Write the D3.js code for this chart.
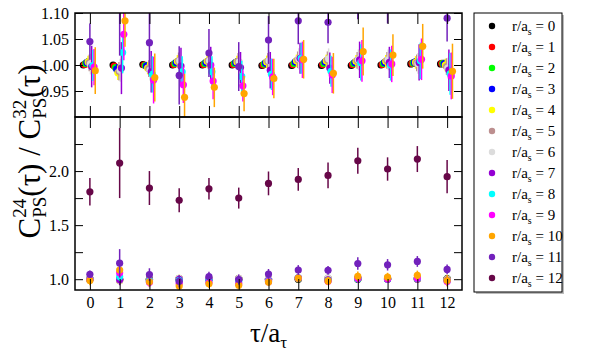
<!DOCTYPE html>
<html>
<head>
<meta charset="utf-8">
<script src="https://cdn.jsdelivr.net/npm/d3@7"></script>
<style>
    body { margin: 0; background: #fff; }
</style>
</head>
<body>
<svg id="chart" width="595" height="354"></svg>
<script>
// tau / a_tau
const tau = [0, 1, 2, 3, 4, 5, 6, 7, 8, 9, 10, 11, 12];
// r / a_s
const rSep = [0, 1, 2, 3, 4, 5, 6, 7, 8, 9, 10, 11, 12];
const seriesColors = ["#000000", "#ff0000", "#00ff00", "#0000ff", "#ffff00", "#bc8f8f", "#dcdcdc",
    "#9400d3", "#00ffff", "#ff00ff", "#ffa500", "#7221bc", "#670748"];

// C_PS^24(tau) / C_PS^32(tau), one row per r/a_s
const ratio = [
    [1.000, 1.000, 1.001, 1.000, 1.000, 1.000, 0.999, 0.999, 0.999, 0.999, 1.000, 1.002, 1.002],
    [1.001, 0.998, 1.000, 1.001, 1.001, 1.001, 1.000, 1.001, 1.001, 1.001, 1.001, 1.003, 1.003],
    [1.003, 0.995, 0.999, 1.003, 1.003, 1.003, 1.002, 1.003, 1.003, 1.003, 1.003, 1.004, 1.003],
    [1.005, 0.992, 0.998, 1.005, 1.005, 1.005, 1.004, 1.006, 1.006, 1.005, 1.005, 1.005, 1.002],
    [1.006, 0.985, 0.994, 1.007, 1.007, 1.006, 1.006, 1.008, 1.008, 1.007, 1.007, 1.005, 1.000],
    [1.004, 0.988, 0.993, 1.008, 1.008, 1.007, 1.007, 1.010, 1.010, 1.009, 1.009, 1.004, 0.997],
    [1.002, 0.990, 0.990, 1.008, 1.008, 1.006, 1.008, 1.012, 1.012, 1.010, 1.010, 1.003, 0.994],
    [0.997, 0.994, 0.987, 0.998, 1.000, 0.995, 0.990, 1.013, 0.994, 1.010, 1.005, 1.005, 0.990],
    [0.999, 1.024, 0.982, 0.987, 0.987, 0.978, 0.982, 1.013, 0.988, 1.005, 1.000, 1.008, 0.983],
    [0.996, 1.059, 0.971, 0.962, 0.969, 0.960, 0.977, 1.010, 0.981, 1.008, 1.002, 1.011, 0.979],
    [0.989, 1.085, 0.976, 0.938, 0.957, 0.945, 0.974, 1.011, 0.984, 1.026, 1.019, 1.036, 0.988],
    [1.045, 1.148, 1.043, 0.980, 1.023, 0.997, 1.048, 1.085, 1.082, 1.145, 1.133, 1.164, 1.090],
    [1.808, 2.074, 1.843, 1.729, 1.836, 1.750, 1.886, 1.923, 1.960, 2.095, 2.019, 2.111, 1.948]
];

const ratioErr = [
    [0.002, 0.002, 0.002, 0.002, 0.002, 0.002, 0.002, 0.002, 0.002, 0.002, 0.002, 0.002, 0.002],
    [0.004, 0.004, 0.004, 0.004, 0.004, 0.004, 0.004, 0.004, 0.004, 0.004, 0.004, 0.004, 0.004],
    [0.006, 0.007, 0.006, 0.006, 0.006, 0.006, 0.006, 0.006, 0.006, 0.006, 0.006, 0.006, 0.006],
    [0.008, 0.010, 0.008, 0.008, 0.008, 0.008, 0.008, 0.008, 0.008, 0.008, 0.008, 0.008, 0.008],
    [0.012, 0.014, 0.012, 0.012, 0.012, 0.012, 0.012, 0.012, 0.012, 0.012, 0.012, 0.012, 0.012],
    [0.016, 0.018, 0.016, 0.016, 0.016, 0.016, 0.016, 0.016, 0.016, 0.016, 0.016, 0.016, 0.016],
    [0.020, 0.022, 0.020, 0.020, 0.020, 0.020, 0.020, 0.020, 0.020, 0.020, 0.020, 0.020, 0.020],
    [0.040, 0.050, 0.040, 0.035, 0.035, 0.030, 0.035, 0.030, 0.030, 0.035, 0.030, 0.035, 0.040],
    [0.030, 0.040, 0.035, 0.030, 0.030, 0.030, 0.030, 0.030, 0.030, 0.035, 0.030, 0.035, 0.040],
    [0.035, 0.050, 0.045, 0.035, 0.035, 0.030, 0.035, 0.035, 0.035, 0.040, 0.035, 0.040, 0.045],
    [0.045, 0.050, 0.046, 0.045, 0.038, 0.034, 0.038, 0.037, 0.039, 0.046, 0.040, 0.043, 0.053],
    [0.035, 0.130, 0.058, 0.056, 0.046, 0.047, 0.046, 0.045, 0.040, 0.057, 0.053, 0.050, 0.045],
    [0.127, 0.324, 0.157, 0.111, 0.100, 0.097, 0.110, 0.105, 0.119, 0.120, 0.108, 0.120, 0.154]
];

const topTicks = [0.95, 1.00, 1.05, 1.10];
const bottomTicks = [1.0, 1.25, 1.5, 1.75, 2.0, 2.25];
const bottomLabels = [1.0, 1.5, 2.0];

const FONT = "Liberation Serif";
const svg = d3.select("#chart");
const pLeft = 75, pRight = 462, pTop = 13, pMid = 117, pBottom = 290;

const x = d3.scaleLinear().domain([-0.5, 12.5]).range([pLeft, pRight]);
const yTop = d3.scaleLinear().domain([0.90, 1.10]).range([pMid, pTop]);
const yBot = d3.scaleLinear().domain([0.9, 2.5]).range([pBottom, pMid]);

// clip paths for the two panels
const defs = svg.append("defs");
defs.append("clipPath").attr("id", "clipTop").append("rect")
    .attr("x", pLeft).attr("y", pTop).attr("width", pRight - pLeft).attr("height", pMid - pTop);
defs.append("clipPath").attr("id", "clipBot").append("rect")
    .attr("x", pLeft).attr("y", pMid).attr("width", pRight - pLeft).attr("height", pBottom - pMid);

function drawPanel(y, clipId, shiftFn) {
    const g = svg.append("g").attr("clip-path", `url(#${clipId})`);
    rSep.forEach((r, i) => {
        const pts = tau.map((t, j) => ({ t: t + shiftFn(r), v: ratio[i][j], e: ratioErr[i][j] }));
        const s = g.append("g");
        s.selectAll("line")
            .data(pts)
            .join("line")
            .attr("x1", d => x(d.t)).attr("x2", d => x(d.t))
            .attr("y1", d => y(d.v - d.e)).attr("y2", d => y(d.v + d.e))
            .attr("stroke", seriesColors[i])
            .attr("stroke-width", 1.5);
        s.selectAll("circle")
            .data(pts)
            .join("circle")
            .attr("cx", d => x(d.t))
            .attr("cy", d => y(d.v))
            .attr("r", 3.6)
            .attr("fill", seriesColors[i]);
    });
}

// top panel points are staggered slightly per r
drawPanel(yTop, "clipTop", r => r <= 10 ? (r - 5.5) * 0.04 : 0);
drawPanel(yBot, "clipBot", r => 0);

function styleAxis(sel) {
    sel.select(".domain").remove();
    sel.selectAll("line").attr("stroke", "#000");
    sel.selectAll("text").style("font-size", "16px").attr("fill", "#000");
}

// Y axes, top panel
svg.append("g").attr("transform", `translate(${pLeft},0)`)
    .call(d3.axisLeft(yTop).tickValues(topTicks).tickFormat(d3.format(".2f")).tickSize(-8).tickPadding(6))
    .call(styleAxis);
svg.append("g").attr("transform", `translate(${pRight},0)`)
    .call(d3.axisRight(yTop).tickValues(topTicks).tickFormat("").tickSize(-8))
    .call(styleAxis);

// Y axes, bottom panel
svg.append("g").attr("transform", `translate(${pLeft},0)`)
    .call(d3.axisLeft(yBot).tickValues(bottomTicks)
        .tickFormat(d => bottomLabels.includes(d) ? d3.format(".1f")(d) : "")
        .tickSize(-8).tickPadding(6))
    .call(styleAxis);
svg.append("g").attr("transform", `translate(${pRight},0)`)
    .call(d3.axisRight(yBot).tickValues(bottomTicks).tickFormat("").tickSize(-8))
    .call(styleAxis);

// X ticks
svg.append("g").attr("transform", `translate(0,${pTop})`)
    .call(d3.axisTop(x).tickValues(tau).tickFormat("").tickSize(-11))
    .call(styleAxis);
svg.append("g").attr("transform", `translate(0,${pMid})`)
    .call(d3.axisBottom(x).tickValues(tau).tickFormat("").tickSize(-11))
    .call(styleAxis);
svg.append("g").attr("transform", `translate(0,${pMid})`)
    .call(d3.axisTop(x).tickValues(tau).tickFormat("").tickSize(-11))
    .call(styleAxis);
svg.append("g").attr("transform", `translate(0,${pBottom})`)
    .call(d3.axisBottom(x).tickValues(tau).tickSize(-11).tickPadding(7))
    .call(styleAxis);

// panel frames
[[pTop, pMid], [pMid, pBottom]].forEach(([a, b]) => {
    svg.append("rect")
        .attr("x", pLeft).attr("y", a)
        .attr("width", pRight - pLeft).attr("height", b - a)
        .attr("fill", "none").attr("stroke", "#000").attr("stroke-width", 1.5);
});

// Axis labels
const yl = svg.append("text")
    .attr("transform", `translate(40,${(pTop + pBottom) / 2}) rotate(-90)`)
    .attr("text-anchor", "middle")
    .style("font-size", "31px")
    .attr("fill", "#000");
yl.append("tspan").text("C");
yl.append("tspan").text("24").style("font-size", "19px").attr("dy", -14);
yl.append("tspan").text("PS").style("font-size", "19px").attr("dx", -19).attr("dy", 20);
yl.append("tspan").text("(τ) / C").attr("dy", -6);
yl.append("tspan").text("32").style("font-size", "19px").attr("dy", -14);
yl.append("tspan").text("PS").style("font-size", "19px").attr("dx", -19).attr("dy", 20);
yl.append("tspan").text("(τ)").attr("dy", -6);

const xl = svg.append("text")
    .attr("x", (pLeft + pRight) / 2).attr("y", 342)
    .attr("text-anchor", "middle")
    .style("font-size", "27px")
    .attr("fill", "#000");
xl.append("tspan").text("τ/a");
xl.append("tspan").text("τ").style("font-size", "17px").attr("dy", 6);

// Legend
const lgX = 474, lgW = 88, lgTop = 13, lgBot = 292;
svg.append("rect").attr("x", lgX + 2).attr("y", lgTop + 2).attr("width", lgW).attr("height", lgBot - lgTop)
    .attr("fill", "#bbb");
svg.append("rect").attr("x", lgX).attr("y", lgTop).attr("width", lgW).attr("height", lgBot - lgTop)
    .attr("fill", "#fff").attr("stroke", "#000").attr("stroke-width", 1);

const ly = d3.scaleLinear().domain([0, 12]).range([26, 278]);
const items = svg.append("g").selectAll("g")
    .data(rSep)
    .join("g")
    .attr("transform", d => `translate(0,${ly(d)})`);
items.append("circle")
    .attr("cx", 492).attr("cy", 0).attr("r", 3.2)
    .attr("fill", (d, i) => seriesColors[i]);
const lt = items.append("text")
    .attr("x", 512).attr("y", 5)
    .style("font-size", "15px")
    .attr("fill", "#000");
lt.append("tspan").text("r/a");
lt.append("tspan").text("s").style("font-size", "10px").attr("dy", 4);
lt.append("tspan").text(d => " = " + d).attr("dy", -4);

// serif everywhere
svg.selectAll("g").attr("font-family", null);
svg.selectAll("text").style("font-family", FONT);
</script>
</body>
</html>
